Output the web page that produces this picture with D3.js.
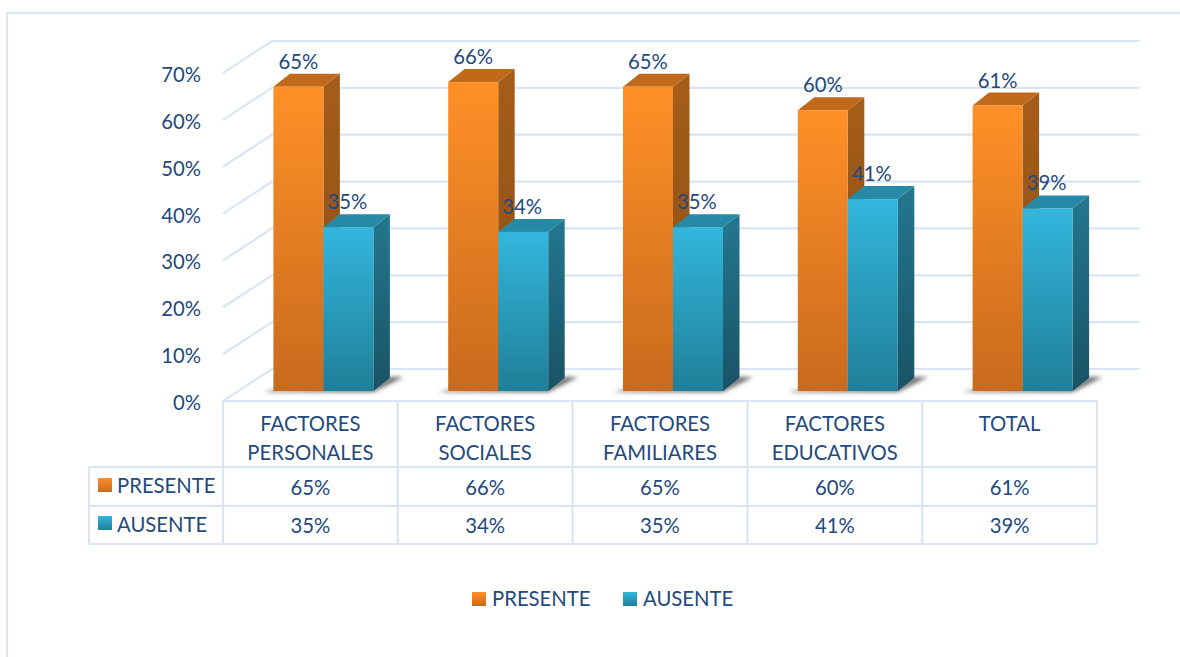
<!DOCTYPE html>
<html>
<head>
<meta charset="utf-8">
<script src="https://cdn.jsdelivr.net/npm/d3@7"></script>
<style>
body { margin: 0; background: #fff; }
text { font-family: Lato, "Open Sans", sans-serif; fill: #23497d; }
</style>
</head>
<body>
<svg id="chart" width="1180" height="657"></svg>
<script>
const categories = [["FACTORES", "PERSONALES"], ["FACTORES", "SOCIALES"], ["FACTORES", "FAMILIARES"], ["FACTORES", "EDUCATIVOS"], ["TOTAL"]];
const seriesNames = ["PRESENTE", "AUSENTE"];
const presente = [65, 66, 65, 60, 61];
const ausente = [35, 34, 35, 41, 39];
const ticks = [0, 10, 20, 30, 40, 50, 60, 70];

const seriesValues = [presente, ausente];
const gridColor = "#dae5f3";
const fontSize = 20.3;
const depthX = 16.5, depthY = 13;
const wallDX = 49, wallDY = 32;

const colors = [
	{ front: ["#ff9027", "#c96a1d"], top: "#c0691b", side: ["#a55d19", "#8a4d14"] },
	{ front: ["#33b6dd", "#1f7f98"], top: "#268aa6", side: ["#24778f", "#195365"] }
];

const svg = d3.select("#chart");
const defs = svg.append("defs");

colors.forEach((c, i) => {
	[["front", c.front], ["side", c.side]].forEach(([name, stops]) => {
		let grad = defs.append("linearGradient")
		.attr("id", name + i)
		.attr("x1", 0).attr("x2", 0).attr("y1", 0).attr("y2", 1);
		grad.append("stop").attr("offset", 0).attr("stop-color", stops[0]);
		grad.append("stop").attr("offset", 1).attr("stop-color", stops[1]);
	});
});

defs.append("filter").attr("id", "blur")
.attr("x", "-30%").attr("y", "-80%").attr("width", "160%").attr("height", "260%")
.append("feGaussianBlur").attr("stdDeviation", 2.2);

// scales
const idx = d3.range(categories.length);
const x = d3.scaleBand().domain(idx).range([223, 1097]);
const inner = d3.scaleBand().domain([0, 1]).range([50.4, 150.4]);
const yBar = d3.scaleLinear().domain([0, 70]).range([391, 63.4]);
const yFront = d3.scaleLinear().domain([0, 70]).range([401, 73]);
const yWall = d3.scaleLinear().domain([0, 70]).range([369, 41]);

// outer frame
svg.append("path")
.attr("d", d3.line()([[1180, 13], [7, 13], [7, 657]]))
.attr("fill", "none")
.attr("stroke", gridColor)
.attr("stroke-width", 2);

// gridlines, back wall and side wall
svg.selectAll(".grid")
.data(ticks)
.join("path")
.attr("class", "grid")
.attr("d", d => d3.line()([[x.range()[0], yWall(d) + wallDY], [x.range()[0] + wallDX, yWall(d)], [1140, yWall(d)]]))
.attr("fill", "none")
.attr("stroke", gridColor)
.attr("stroke-width", 2.2);

// y axis
svg.append("g")
.attr("transform", "translate(216,2)")
.call(d3.axisLeft(yFront).tickValues(ticks).tickSize(0).tickPadding(15).tickFormat(d => d + "%"))
.call(g => g.select(".domain").remove())
.call(g => g.selectAll("text").style("font-family", "Lato").style("font-size", fontSize + "px").attr("fill", "#23497d"));

// floor shadows
svg.selectAll(".shadow")
.data(idx)
.join("polygon")
.attr("class", "shadow")
.attr("points", i => {
	let left = x(i) + inner(0), right = x(i) + inner(1) + inner.bandwidth();
	let y0 = yBar(0);
	return [[left - 10, y0 + 1], [right, y0 + 1], [right + 30, y0 - 14], [right + depthX, y0 - 14], [right, y0 - 4], [left, y0 - 1]].join(" ");
})
.attr("fill", "#444")
.attr("opacity", 0.8)
.attr("filter", "url(#blur)");

// bars
seriesValues.forEach((vals, s) => {
	let g = svg.append("g").attr("class", "series" + s);
	let left = i => x(i) + inner(s);
	let right = i => left(i) + inner.bandwidth();

	g.selectAll(".side")
	.data(idx)
	.join("polygon")
	.attr("class", "side")
	.attr("points", i => [[right(i), yBar(vals[i])], [right(i) + depthX, yBar(vals[i]) - depthY], [right(i) + depthX, yBar(0) - depthY], [right(i), yBar(0)]].join(" "))
	.attr("fill", "url(#side" + s + ")");

	g.selectAll(".top")
	.data(idx)
	.join("polygon")
	.attr("class", "top")
	.attr("points", i => [[left(i), yBar(vals[i])], [left(i) + depthX, yBar(vals[i]) - depthY], [right(i) + depthX, yBar(vals[i]) - depthY], [right(i), yBar(vals[i])]].join(" "))
	.attr("fill", colors[s].top);

	g.selectAll(".front")
	.data(idx)
	.join("rect")
	.attr("class", "front")
	.attr("x", left)
	.attr("y", i => yBar(vals[i]))
	.attr("width", inner.bandwidth())
	.attr("height", i => yBar(0) - yBar(vals[i]))
	.attr("fill", "url(#front" + s + ")");
});

// data labels on top of everything
seriesValues.forEach((vals, s) => {
	svg.selectAll(".label" + s)
	.data(idx)
	.join("text")
	.attr("class", "label" + s)
	.attr("x", i => x(i) + inner(s) + inner.bandwidth() / 2 + [0, -1][s])
	.attr("y", i => yBar(vals[i]) - 18)
	.attr("text-anchor", "middle")
	.style("font-size", fontSize + "px")
	.text(i => vals[i] + "%");
});

// data table
const rowY = d3.scaleOrdinal().domain(["head", 0, 1, "end"]).range([401, 467, 506, 544]);
const tableLeft = 89;
let tableLines = [];
tableLines.push([[x.range()[0], rowY("head")], [x.range()[1], rowY("head")]]);
tableLines.push([[tableLeft, rowY(0)], [x.range()[1], rowY(0)]]);
tableLines.push([[tableLeft, rowY(1)], [x.range()[1], rowY(1)]]);
tableLines.push([[tableLeft, rowY("end")], [x.range()[1], rowY("end")]]);
tableLines.push([[tableLeft, rowY(0)], [tableLeft, rowY("end")]]);
idx.concat([idx.length]).forEach(i => {
	let px = i < idx.length ? x(i) : x.range()[1];
	tableLines.push([[px, rowY("head")], [px, rowY("end")]]);
});

svg.selectAll(".tableline")
.data(tableLines)
.join("path")
.attr("class", "tableline")
.attr("d", d => d3.line()(d))
.attr("stroke", gridColor)
.attr("stroke-width", 2.2);

svg.selectAll(".cat")
.data(idx)
.join("text")
.attr("class", "cat")
.attr("text-anchor", "middle")
.style("font-size", fontSize + "px")
.each(function(i) {
	d3.select(this).selectAll("tspan")
	.data(categories[i])
	.join("tspan")
	.attr("x", x(i) + x.bandwidth() / 2)
	.attr("y", (d, k) => 431 + k * 29)
	.text(d => d);
});

seriesValues.forEach((vals, s) => {
	let base = [495, 533][s];
	svg.selectAll(".cell" + s)
	.data(idx)
	.join("text")
	.attr("class", "cell" + s)
	.attr("x", i => x(i) + x.bandwidth() / 2)
	.attr("y", base)
	.attr("text-anchor", "middle")
	.style("font-size", fontSize + "px")
	.text(i => vals[i] + "%");

	svg.append("rect")
	.attr("x", 98).attr("y", base - 17).attr("width", 14).attr("height", 14)
	.attr("fill", "url(#front" + s + ")");

	svg.append("text")
	.attr("x", 117).attr("y", base - 2 + s)
	.style("font-size", fontSize + "px")
	.text(seriesNames[s]);
});

// legend
const legendX = d3.scaleOrdinal().domain([0, 1]).range([472, 623]);
seriesNames.forEach((name, s) => {
	svg.append("rect")
	.attr("x", legendX(s)).attr("y", 592).attr("width", 14).attr("height", 14)
	.attr("fill", "url(#front" + s + ")");

	svg.append("text")
	.attr("x", legendX(s) + 20).attr("y", 606)
	.style("font-size", fontSize + "px")
	.text(name);
});
</script>
</body>
</html>
